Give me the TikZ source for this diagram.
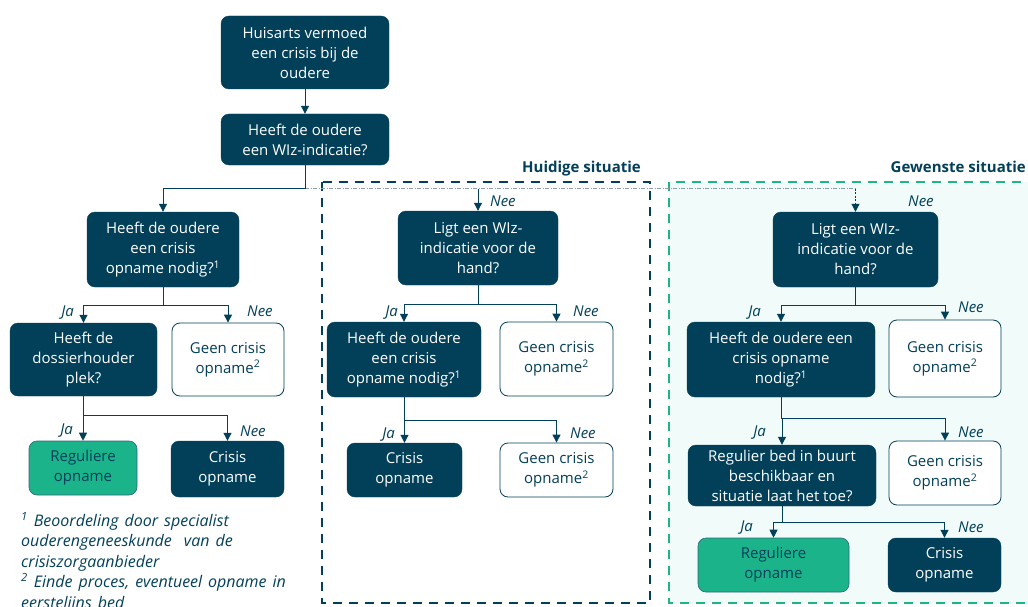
\documentclass[tikz,border=0pt]{standalone}
\usepackage{fontspec}
\setmainfont{Open Sans}
\newcommand{\fnwide}{\spaceskip=6pt plus 1pt\relax}
\usetikzlibrary{arrows.meta}
\definecolor{navy}{HTML}{023F59}
\definecolor{mint}{HTML}{1BB38A}
\definecolor{mintline}{HTML}{22B584}
\definecolor{lightbg}{HTML}{F0FBFA}
\definecolor{dashgray}{HTML}{8A9DAA}
\tikzset{
  box/.style={rounded corners=8pt, align=center, font=\fontsize{15}{20}\selectfont, inner sep=2pt},
  darkbox/.style={box, fill=navy, draw=navy, text=white},
  whitebox/.style={box, fill=white, draw=navy, line width=0.8pt, text=navy},
  greenbox/.style={box, fill=mint, draw=navy!80, line width=0.6pt, text=navy},
  sz/.style 2 args={minimum width=#1pt, minimum height=#2pt},
  conn/.style={draw=navy, line width=1pt, -{Triangle[width=8pt,length=8pt]}},
  lab/.style={font=\fontsize{15}{16}\selectfont\itshape, text=navy, inner sep=0pt},
  head/.style={font=\fontsize{15}{18}\selectfont\bfseries, text=navy, inner sep=0pt},
  region/.style={line width=2.6pt, dash pattern=on 9pt off 7pt},
}
\begin{document}
\begin{tikzpicture}[x=1pt,y=-1pt]
\useasboundingbox (0,0) rectangle (1028,607);
% regions
\fill[lightbg] (669,182) rectangle (1040,603);
\draw[region, draw=mintline] (669,182) rectangle (1040,603);
\draw[region, draw=navy] (322,182) rectangle (650,603);
\node[head, anchor=base east] (hs) at (641,172) {Huidige situatie};
\node[head, anchor=base east] (gs) at (1026,172) {Gewenste situatie};

% top
\node[darkbox, sz={168}{73}] (top) at (305,52.5) {Huisarts vermoed\\een crisis bij de\\oudere};
\node[darkbox, sz={168}{51}] (wiz) at (305,139.5) {Heeft de oudere\\een WIz-indicatie?};

% left column
\node[darkbox, sz={152}{75}] (l1) at (163,249.5) {Heeft de oudere\\een crisis\\opname nodig?\textsuperscript{1}};
\node[darkbox, sz={147}{73}] (l2) at (83.5,359.5) {Heeft de\\dossierhouder\\plek?};
\node[whitebox, sz={112}{73}] (l3) at (228,359.5) {Geen crisis\\opname\textsuperscript{2}};
\node[greenbox, sz={108}{54}] (l4) at (83,468) {Reguliere\\opname};
\node[darkbox, sz={113}{56}] (l5) at (227.5,469) {Crisis\\opname};

% middle column
\node[darkbox, sz={160}{74}] (m1) at (478,248) {Ligt een WIz-\\indicatie voor de\\hand?};
\node[darkbox, sz={154}{75}] (m2) at (404,359.5) {Heeft de oudere\\een crisis\\opname nodig?\textsuperscript{1}};
\node[whitebox, sz={113}{74}] (m3) at (556.5,359) {Geen crisis\\opname\textsuperscript{2}};
\node[darkbox, sz={115}{54}] (m4) at (404.5,470) {Crisis\\opname};
\node[whitebox, sz={113}{54}] (m5) at (556.5,470) {Geen crisis\\opname\textsuperscript{2}};

% right column
\node[darkbox, sz={165}{75}] (r1) at (855.5,249.5) {Ligt een WIz-\\indicatie voor de\\hand?};
\node[darkbox, sz={188}{75}] (r2) at (781,359.5) {Heeft de oudere een\\crisis opname\\nodig?\textsuperscript{1}};
\node[whitebox, sz={112}{77}] (r3) at (945,358.5) {Geen crisis\\opname\textsuperscript{2}};
\node[darkbox, sz={188}{61}] (r4) at (782,475.5) {Regulier bed in buurt\\beschikbaar en\\situatie laat het toe?};
\node[whitebox, sz={112}{64}] (r5) at (945,473) {Geen crisis\\opname\textsuperscript{2}};
\node[greenbox, sz={151}{54}] (r6) at (773.5,565) {Reguliere\\opname};
\node[darkbox, sz={113}{54}] (r7) at (944.5,565) {Crisis\\opname};

% connectors
\draw[conn] (top) -- (wiz);
\coordinate (j) at ([yshift=-23.5pt]wiz.south);
\draw[draw=dashgray, line width=0.8pt, dash pattern=on 4pt off 1.5pt on 1pt off 1.5pt] (j) -- (r1.north |- j);
\draw[conn] (wiz.south) -- (j) -| (l1.north);
\draw[conn] (m1.north |- j) -- (m1.north);
\draw[conn, dash pattern=on 2pt off 1.5pt] (r1.north |- j) -- (r1.north);

\draw[conn] (l1.south) -- ++(0,18) -| (l2.north);
\draw[conn] (l1.south) -- ++(0,18) -| (l3.north);
\draw[conn] (l2.south) -- ++(0,19) -| (l4.north);
\draw[conn] (l2.south) -- ++(0,19) -| (l5.north);

\draw[conn] (m1.south) -- ++(0,19) -| (m2.north);
\draw[conn] (m1.south) -- ++(0,19) -| (m3.north);
\draw[conn] (m2.south) -- ++(0,23) -| (m4.north);
\draw[conn] (m2.south) -- ++(0,23) -| (m5.north);

\draw[conn] (r1.south) -- ++(0,18) -| (r2.north);
\draw[conn] (r1.south) -- ++(0,18) -| (r3.north);
\draw[conn] (r2.south) -- ++(0,21) -| (r4.north);
\draw[conn] (r2.south) -- ++(0,21) -| (r5.north);
\draw[conn] (r4.south) -- ++(0,16) -| (r6.north);
\draw[conn] (r4.south) -- ++(0,16) -| (r7.north);

% labels
\node[lab, anchor=base west] (n0) at (490,206) {Nee};
\node[lab, anchor=base west] (n0r) at (908,206) {Nee};
\node[lab, anchor=base east] (a1) at (74,316) {Ja};
\node[lab, anchor=base west] (b1) at (247,316) {Nee};
\node[lab, anchor=base east] (a2) at (73,434) {Ja};
\node[lab, anchor=base west] (b2) at (240,436) {Nee};
\node[lab, anchor=base east] (a3) at (398,316) {Ja};
\node[lab, anchor=base west] (b3) at (573,316) {Nee};
\node[lab, anchor=base east] (a4) at (395,438) {Ja};
\node[lab, anchor=base west] (b4) at (570,438) {Nee};
\node[lab, anchor=base east] (a5) at (761,316) {Ja};
\node[lab, anchor=base west] (b5) at (958,312) {Nee};
\node[lab, anchor=base east] (a6) at (766,436) {Ja};
\node[lab, anchor=base west] (b6) at (958,437) {Nee};
\node[lab, anchor=base east] (a7) at (753,531) {Ja};
\node[lab, anchor=base west] (b7) at (958,532) {Nee};

% footnotes
\node[anchor=north west, align=left, inner sep=0pt, text=navy, font=\fontsize{16}{20.5}\selectfont\itshape\fnwide] (fn) at (21,512)
 {\textsuperscript{1} Beoordeling door specialist\\ouderengeneeskunde\ \ van de\\crisiszorgaanbieder\\\textsuperscript{2} Einde proces, eventueel opname in\\eerstelijns bed};
\end{tikzpicture}
\end{document}
